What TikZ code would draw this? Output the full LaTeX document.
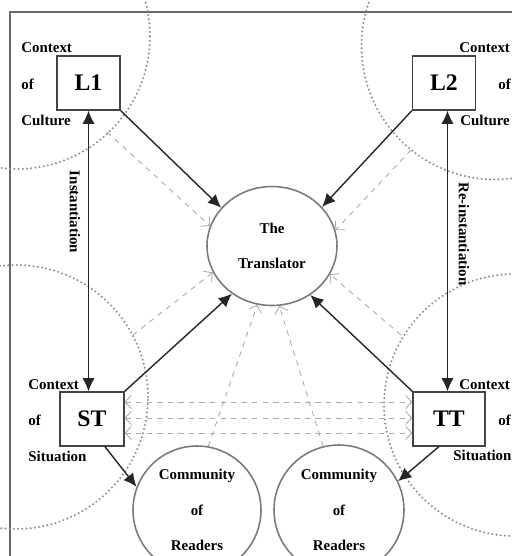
\documentclass[tikz,border=0pt]{standalone}
\usepackage{xcolor}
\usepackage{fontspec}
\setmainfont{Liberation Serif}
\usepackage{tikz}
\usetikzlibrary{arrows.meta,shapes.geometric,positioning}

\definecolor{boxline}{HTML}{444444}
\definecolor{ringline}{HTML}{7A7A7A}
\definecolor{dotline}{HTML}{8E8E8E}
\definecolor{faintline}{HTML}{AAAAAA}

\begin{document}
\begin{tikzpicture}[x=0.02cm,y=-0.02cm,
    lbl/.style={font=\bfseries\fontsize{8.5}{10}\selectfont, inner sep=0pt},
    langbox/.style={draw=boxline, line width=0.7pt, minimum width=1.26cm, minimum height=1.08cm,
        inner sep=0pt, font=\bfseries\fontsize{13.5}{15}\selectfont},
    ring/.style={draw=ringline, line width=0.9pt, inner sep=0pt, align=center,
        font=\bfseries\fontsize{8.5}{10}\selectfont},
    realm/.style={draw=dotline, line width=1.3pt, dash pattern=on 0pt off 2.4pt, line cap=round},
    link/.style={draw=black!85, line width=0.8pt, -{Latex[length=7.5pt,width=7pt]}},
    twolink/.style={draw=black!85, line width=0.8pt, {Latex[length=7.5pt,width=7pt]}-{Latex[length=7.5pt,width=7pt]}},
    faint/.style={draw=faintline, line width=0.5pt, dashed, -{Straight Barb[length=3.5pt,width=7.5pt]}},
    twofaint/.style={draw=faintline, line width=0.5pt, dashed,
        {Straight Barb[length=3.5pt,width=7.5pt]}-{Straight Barb[length=3.5pt,width=7.5pt]}}]

    \useasboundingbox (0,0) rectangle (512,556);
    \clip (0,0) rectangle (512,556);

    % Frame
    \draw[boxline!80, line width=0.8pt] (10,12) rectangle (540,590);

    % Contexts (dotted)
    \draw[realm] (17,36) circle[radius=2.66cm];
    \draw[realm] (495,46) circle[radius=2.67cm];
    \draw[realm] (16,397) circle[radius=2.64cm];
    \draw[realm] (515,405) circle[radius=2.62cm];

    % Languages and texts
    \node[langbox] (l1) at (88.5,83) {L1};
    \node[langbox] (l2) at (444,83) {L2};
    \node[langbox, minimum width=1.28cm] (st) at (92,419) {ST};
    \node[langbox, minimum width=1.44cm] (tt) at (449,419) {TT};

    % Translator and readers
    \node[ring, ellipse, minimum width=2.6cm, minimum height=2.38cm] (tr) at (272,246)
        {\bfseries The\\[10.2pt]\bfseries Translator};
    \node[ring, circle, minimum size=2.56cm] (rdA) at (197,510)
        {\bfseries Community\\[10.2pt]\bfseries of\\[10.2pt]\bfseries Readers};
    \node[ring, circle, minimum size=2.6cm] (rdB) at (339,510)
        {\bfseries Community\\[10.2pt]\bfseries of\\[10.2pt]\bfseries Readers};

    % Side labels
    \node[lbl, anchor=west] at (21,48) {Context};
    \node[lbl, anchor=west] at (21,84) {of};
    \node[lbl, anchor=west] at (21,120) {Culture};
    \node[lbl, anchor=west] at (459,48) {Context};
    \node[lbl, anchor=west] at (498,84) {of};
    \node[lbl, anchor=west] at (460,120) {Culture};
    \node[lbl, anchor=west] at (28,385) {Context};
    \node[lbl, anchor=west] at (28,420) {of};
    \node[lbl, anchor=west] at (28,456) {Situation};
    \node[lbl, anchor=west] at (459,385) {Context};
    \node[lbl, anchor=west] at (498,420) {of};
    \node[lbl, anchor=west] at (453,455) {Situation};
    \node[lbl, rotate=-90] at (75,212) {Instantiation};
    \node[lbl, rotate=-90] at (464,234) {Re-instantiation};

    % Instantiation arrows
    \draw[twolink] (l1.south) -- (l1.south |- st.north);
    \draw[twolink] (l2.south -| 447.5,0) -- (st.north -| 447.5,0);

    % Towards the translator
    \draw[link] (l1.south east) -- (tr.143);
    \draw[link] (l2.south west) -- (tr.38);
    \draw[link] (st.north east) -- (tr.230);
    \draw[link] (tt.north west) -- (tr.308);
    \draw[link] (st.-65) -- (rdA.159);
    \draw[link] (tt.-110) -- (rdB.26);

    % Faint influences
    \coordinate (p1) at (107,132);
    \coordinate (p2) at (411,150);
    \coordinate (p3) at (133,335);
    \coordinate (p4) at (401,335);
    \draw[faint] (p1) -- (tr.162);
    \draw[faint] (p2) -- (tr.14);
    \draw[faint] (p3) -- (tr.204);
    \draw[faint] (p4) -- (tr.334);
    \draw[faint] (rdA.80) -- (tr.256);
    \draw[faint] (rdB.104) -- (tr.277);
    \foreach \dy in {0.34cm,0.02cm,-0.28cm}
        \draw[twofaint] ([yshift=\dy]st.east) -- ([yshift=\dy]tt.west);
\end{tikzpicture}
\end{document}
